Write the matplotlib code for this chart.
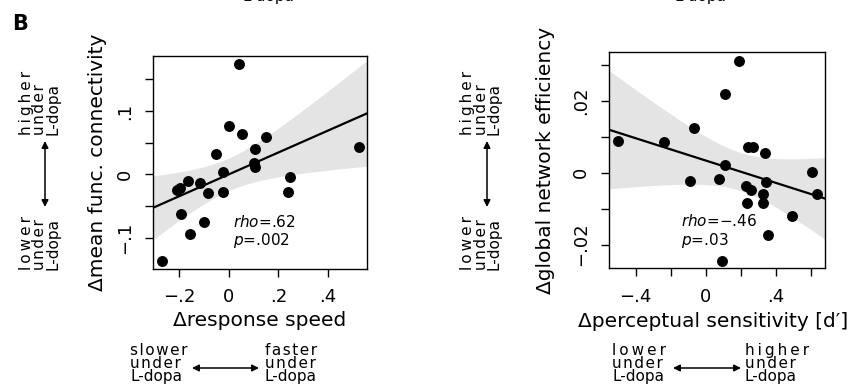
import numpy as np
import matplotlib.pyplot as plt
from matplotlib.patches import FancyArrowPatch

# panel 1: response speed vs mean functional connectivity
speed = [0.041, 0.000, 0.052, 0.150, 0.105, 0.523, -0.050, 0.102, 0.106, -0.022, 0.247,
         -0.164, -0.114, -0.209, -0.195, -0.082, -0.024, 0.239, -0.191, -0.098, -0.156, -0.270]
conn = [0.174, 0.077, 0.064, 0.059, 0.040, 0.043, 0.032, 0.018, 0.012, 0.003, -0.004,
        -0.010, -0.013, -0.024, -0.021, -0.029, -0.028, -0.028, -0.062, -0.075, -0.094, -0.137]

# panel 2: perceptual sensitivity vs global network efficiency
dprime = [0.190, 0.108, -0.069, -0.501, -0.238, 0.244, 0.270, 0.339, 0.108, 0.609, -0.090,
          0.078, 0.230, 0.259, 0.343, 0.326, 0.634, 0.234, 0.329, 0.495, 0.356, 0.095]
eff = [0.0310, 0.0219, 0.0123, 0.0087, 0.0086, 0.0071, 0.0070, 0.0054, 0.0021, 0.0003, -0.0024,
       -0.0017, -0.0037, -0.0047, -0.0025, -0.0059, -0.0059, -0.0085, -0.0085, -0.0120, -0.0173, -0.0244]

T_CRIT = 2.086  # t(0.975, df=20)
BAND = "#e4e4e4"
FS_TICK = 13
FS_LAB = 14.5
FS_ANN = 11

THIN = "\u2009"
HAIR = "\u200a"
# letter spacing per word, as in the original figure
GAP = {"higher": THIN, "lower": THIN, "under": HAIR, "slower": HAIR, "faster": HAIR, "L-dopa": ""}


def spaced(word):
    return GAP[word].join(word)


def hint(word):
    return "\n".join([spaced(word), spaced("under"), spaced("L-dopa")])


def fit_band(ax, x, y, xlim):
    x = np.asarray(x)
    y = np.asarray(y)
    b, a = np.polyfit(x, y, 1)
    n = len(x)
    resid = y - (a + b * x)
    s = np.sqrt(np.sum(resid ** 2) / (n - 2))
    xs = np.linspace(xlim[0], xlim[1], 200)
    yhat = a + b * xs
    se = s * np.sqrt(1 / n + (xs - x.mean()) ** 2 / np.sum((x - x.mean()) ** 2))
    ax.fill_between(xs, yhat - T_CRIT * se, yhat + T_CRIT * se, color=BAND, lw=0, zorder=1)
    ax.plot(xs, yhat, color="black", lw=1.6, zorder=2)


def style(ax):
    for sp in ax.spines.values():
        sp.set_linewidth(1.0)
    ax.tick_params(direction="out", length=6, width=1, labelsize=FS_TICK, pad=8)
    for lab in ax.get_yticklabels():
        lab.set_rotation(90)
        lab.set_va("center")


fig = plt.figure(figsize=(8.49, 3.88), dpi=100)

# left panel
ax1 = fig.add_axes([0.1806, 0.3075, 0.2513, 0.5482])
xlim1 = (-0.303, 0.555)
ylim1 = (-0.149, 0.187)
fit_band(ax1, speed, conn, xlim1)
ax1.scatter(speed, conn, s=62, color="black", zorder=3, lw=0)
ax1.set_xlim(*xlim1)
ax1.set_ylim(*ylim1)
ax1.set_xticks([-0.2, 0, 0.2, 0.4])
ax1.set_xticklabels(["\u2212.2", "0", ".2", ".4"])
ax1.set_yticks([-0.1, -0.05, 0, 0.05, 0.1, 0.15])
ax1.set_yticklabels(["\u2212.1", "", "0", "", ".1", ""])
style(ax1)
ax1.set_xlabel("\u0394response speed", fontsize=FS_LAB)
ax1.set_ylabel("\u0394mean func. connectivity", fontsize=FS_LAB)
ax1.xaxis.set_label_coords(0.5, -0.2)
ax1.yaxis.set_label_coords(-0.217, 0.5)
ax1.text(0.016, -0.075, r"$\mathit{rho}$=.62", fontsize=11, va="center")
ax1.text(0.016, -0.105, r"$\mathit{p}$=.002", fontsize=11, va="center")

# right panel
ax2 = fig.add_axes([0.7177, 0.3085, 0.2541, 0.5567])
xlim2 = (-0.551, 0.682)
ylim2 = (-0.02656, 0.03344)
fit_band(ax2, dprime, eff, xlim2)
ax2.scatter(dprime, eff, s=62, color="black", zorder=3, lw=0)
ax2.set_xlim(*xlim2)
ax2.set_ylim(*ylim2)
ax2.set_xticks([-0.4, -0.2, 0, 0.2, 0.4, 0.6])
ax2.set_xticklabels(["\u2212.4", "", "0", "", ".4", ""])
ax2.set_yticks([-0.02, -0.01, 0, 0.01, 0.02, 0.03])
ax2.set_yticklabels(["\u2212.02", "", "0", "", ".02", ""])
style(ax2)
ax2.set_xlabel("\u0394perceptual sensitivity [d\u2032]", fontsize=FS_LAB)
ax2.set_ylabel("\u0394global network efficiency", fontsize=FS_LAB)
ax2.xaxis.set_label_coords(0.48, -0.2)
ax2.yaxis.set_label_coords(-0.252, 0.5)
ax2.text(-0.141, -0.0133, "$\\mathit{rho}$=\u2212.46", fontsize=11, va="center")
ax2.text(-0.141, -0.0189, r"$\mathit{p}$=.03", fontsize=11, va="center")

W, H = 849, 388


def fx(px):
    return px / W


def fy(py):
    return 1 - py / H


def darrow(x0, y0, x1, y1):
    fig.add_artist(FancyArrowPatch(
        (fx(x0), fy(y0)), (fx(x1), fy(y1)), transform=fig.transFigure,
        arrowstyle="<|-|>", mutation_scale=10, lw=1.1, color="black",
        shrinkA=0, shrinkB=0))


# panel letter and clipped labels from the panel above
fig.text(fx(12), fy(30), "B", fontsize=15, fontweight="bold", va="baseline")
fig.text(fx(268), fy(4), "L-dopa", fontsize=FS_ANN, ha="center", va="bottom")
fig.text(fx(700), fy(4), "L-dopa", fontsize=FS_ANN, ha="center", va="bottom")

# vertical direction hints
for xc, xa in [(40, 45), (481, 487)]:
    fig.text(fx(xc), fy(135), hint("higher"), rotation=90, fontsize=FS_ANN,
             ha="center", va="bottom", multialignment="left", linespacing=0.85)
    fig.text(fx(xc), fy(270), hint("lower"), rotation=90, fontsize=FS_ANN,
             ha="center", va="bottom", multialignment="left", linespacing=0.85)
    darrow(xa, 141, xa, 207)

# horizontal direction hints
for xl, xr, a0, a1, tl, tr in [(130, 265, 192, 259, "slower", "faster"),
                               (612, 745, 673, 741, "lower", "higher")]:
    fig.text(fx(xl), fy(343), hint(tl), fontsize=FS_ANN,
             ha="left", va="top", linespacing=0.85)
    fig.text(fx(xr), fy(343), hint(tr), fontsize=FS_ANN,
             ha="left", va="top", linespacing=0.85)
    darrow(a0, 368, a1, 368)

fig.savefig("out.png", dpi=100)
